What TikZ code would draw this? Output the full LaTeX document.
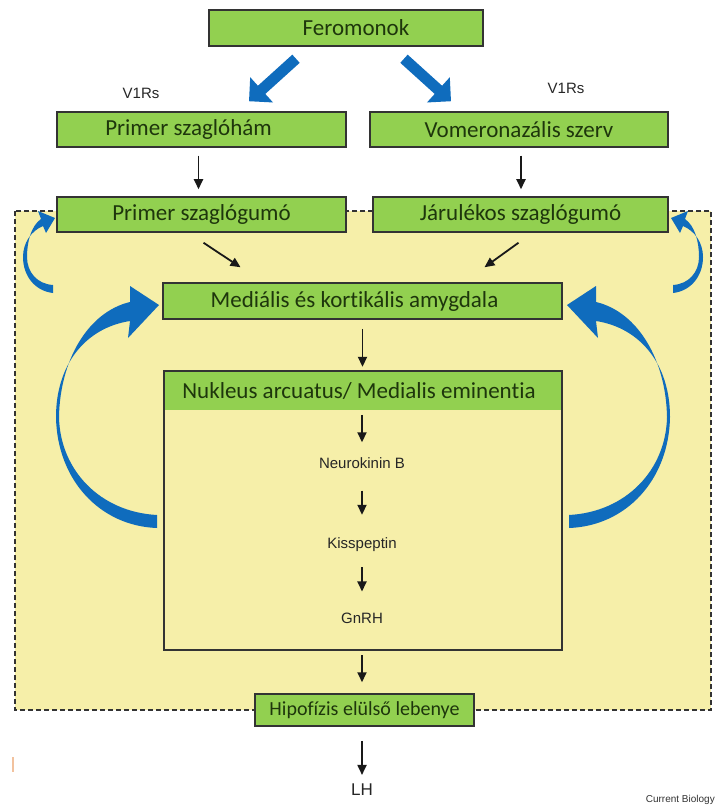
\documentclass[tikz,border=0pt]{standalone}
\usepackage{fontspec}
\usetikzlibrary{arrows.meta}
\newfontfamily\carlitofont[Ligatures=NoCommon]{Carlito}
\newfontfamily\arialfont{Liberation Sans}
\definecolor{boxgreen}{HTML}{92D050}
\definecolor{boxtext}{HTML}{1E360C}
\definecolor{bgyellow}{HTML}{F6EFA9}
\definecolor{arrowblue}{HTML}{0F6CBD}
\definecolor{edgegray}{HTML}{333333}
\definecolor{faintorange}{HTML}{F2C29E}
\newcommand\bigcurvearrow{%
  \fill[arrowblue] (157,528) .. controls (100,526) and (57,480) .. (56,417)
    .. controls (56,365) and (85,328) .. (130,321) -- (128,338) -- (159,305)
    -- (130,286) -- (130,302) .. controls (88,312) and (60,360) .. (59,417)
    .. controls (60,470) and (100,512) .. (157,515) -- cycle;}
\newcommand\smallcurvearrow{%
  \fill[arrowblue] (53,293) .. controls (35,291) and (23,276) .. (23,257)
    .. controls (23,243) and (31,231) .. (43,226) -- (46,233) -- (55,218)
    -- (38,211) -- (41,219) .. controls (31,226) and (27,242) .. (27,257)
    .. controls (27,272) and (37,284) .. (53,285) -- cycle;}
\begin{document}
\begin{tikzpicture}[x=1pt,y=-1pt,
  gbox/.style={draw=edgegray, line width=1.5pt, fill=boxgreen, text=boxtext,
    inner sep=0pt, font=\carlitofont\fontsize{23}{27}\selectfont},
  blk/.style={line width=1.8pt, draw=black!90, -{Triangle[length=10pt,width=9pt]}},
  bluearr/.style={line width=11pt, draw=arrowblue, -{Triangle[length=17pt,width=33pt]}},
  smalltext/.style={font=\arialfont\fontsize{15}{18}\selectfont, text=black!85, inner sep=1pt}]
\useasboundingbox (0,0) rectangle (716,805);
\fill[white] (0,0) rectangle (716,805);
% yellow dashed region
\draw[edgegray, line width=1.2pt, dash pattern=on 5pt off 3pt, fill=bgyellow] (15,211) rectangle (711,710);

% boxes
\node[gbox, minimum width=274pt, minimum height=36pt] (fer) at (346,28) {\hspace*{20pt}Feromonok};
\node[gbox, minimum width=289pt, minimum height=35pt] (psh) at (201.5,129.5) {Primer szaglóhám\hspace*{26pt}};
\node[gbox, minimum width=298pt, minimum height=35pt] (vom) at (519,129.5) {Vomeronazális szerv};
\node[gbox, minimum width=289pt, minimum height=35pt] (psg) at (201.5,214.5) {Primer szaglógumó};
\node[gbox, minimum width=295pt, minimum height=35pt] (jar) at (520.5,214.5) {Járulékos szaglógumó};
\node[gbox, minimum width=399pt, minimum height=36pt] (med) at (362.5,301) {Mediális és kortikális amygdala\hspace*{16pt}};

\node[fill=bgyellow, minimum width=398pt, minimum height=279pt, inner sep=0pt] (nuk) at (363,510.5) {};
\node[fill=boxgreen, minimum width=396.5pt, minimum height=38pt, inner sep=0pt, anchor=north,
  text=boxtext, font=\carlitofont\fontsize{23}{27}\selectfont] (nukh) at ([yshift=-0.75pt]nuk.north) {Nukleus arcuatus/ Medialis eminentia\hspace*{8pt}};
\draw[edgegray, line width=1.5pt] (nuk.north west) rectangle (nuk.south east);

\node[smalltext] (nkb) at (362,463) {Neurokinin B};
\node[smalltext] (kis) at (362,545) {Kisspeptin};
\node[smalltext] (gnrh) at (362,618) {GnRH};

\node[gbox, minimum width=219pt, minimum height=32pt, font=\carlitofont\fontsize{20}{24}\selectfont] (hip) at (364.5,710) {Hipofízis elülső lebenye};
\node[font=\arialfont\fontsize{17}{20}\selectfont, text=black!85, inner sep=1pt] (lh) at (362,790) {LH};

\node[smalltext] (v1l) at (141,93) {V1Rs};
\node[smalltext] (v1r) at (566,88) {V1Rs};
\node[font=\arialfont\fontsize{10}{12}\selectfont, text=black!80, anchor=base east, inner sep=0pt] (cb) at (715,802) {Current Biology};

% blue straight arrows
\draw[bluearr] ([shift={(-50,12)}]fer.south) -- ([shift={(47.5,-10)}]psh.north);
\draw[bluearr] ([shift={(58,12)}]fer.south) -- ([shift={(-68,-10)}]vom.north);

% black arrows
\draw[blk, shorten <=8pt, shorten >=7pt] ([xshift=-3pt]psh.south) -- ([xshift=-3pt]psh.south |- psg.north);
\draw[blk, shorten <=8pt, shorten >=7pt] ([xshift=2pt]vom.south) -- ([xshift=2pt]vom.south |- jar.north);
\draw[blk] ([shift={(2,10)}]psg.south) -- ([shift={(-122,-15)}]med.north);
\draw[blk] ([shift={(-2,10)}]jar.south) -- ([shift={(122,-15)}]med.north);
\draw[blk, shorten <=9pt, shorten >=4pt] (med.south) -- (med.south |- nuk.north);
\draw[blk, shorten <=5pt, shorten >=14pt] (nukh.south -| nkb.north) -- (nkb.north);
\draw[blk, shorten <=21pt, shorten >=22pt] (nkb.south) -- (kis.north);
\draw[blk, shorten <=14pt, shorten >=20pt] (kis.south) -- (gnrh.north);
\draw[blk, shorten <=5pt, shorten >=11pt] (nuk.south -| gnrh.south) -- (hip.north -| gnrh.south);
\draw[blk, shorten <=14pt, shorten >=8pt] (hip.south -| lh.north) -- (lh.north);

% curved blue arrows
\bigcurvearrow
\smallcurvearrow
\begin{scope}[shift={(726,0)}, xscale=-1]
\bigcurvearrow
\smallcurvearrow
\end{scope}

% faint mark at left edge
\draw[faintorange, line width=1.5pt] (13,757) -- (13,772);
\end{tikzpicture}
\end{document}
